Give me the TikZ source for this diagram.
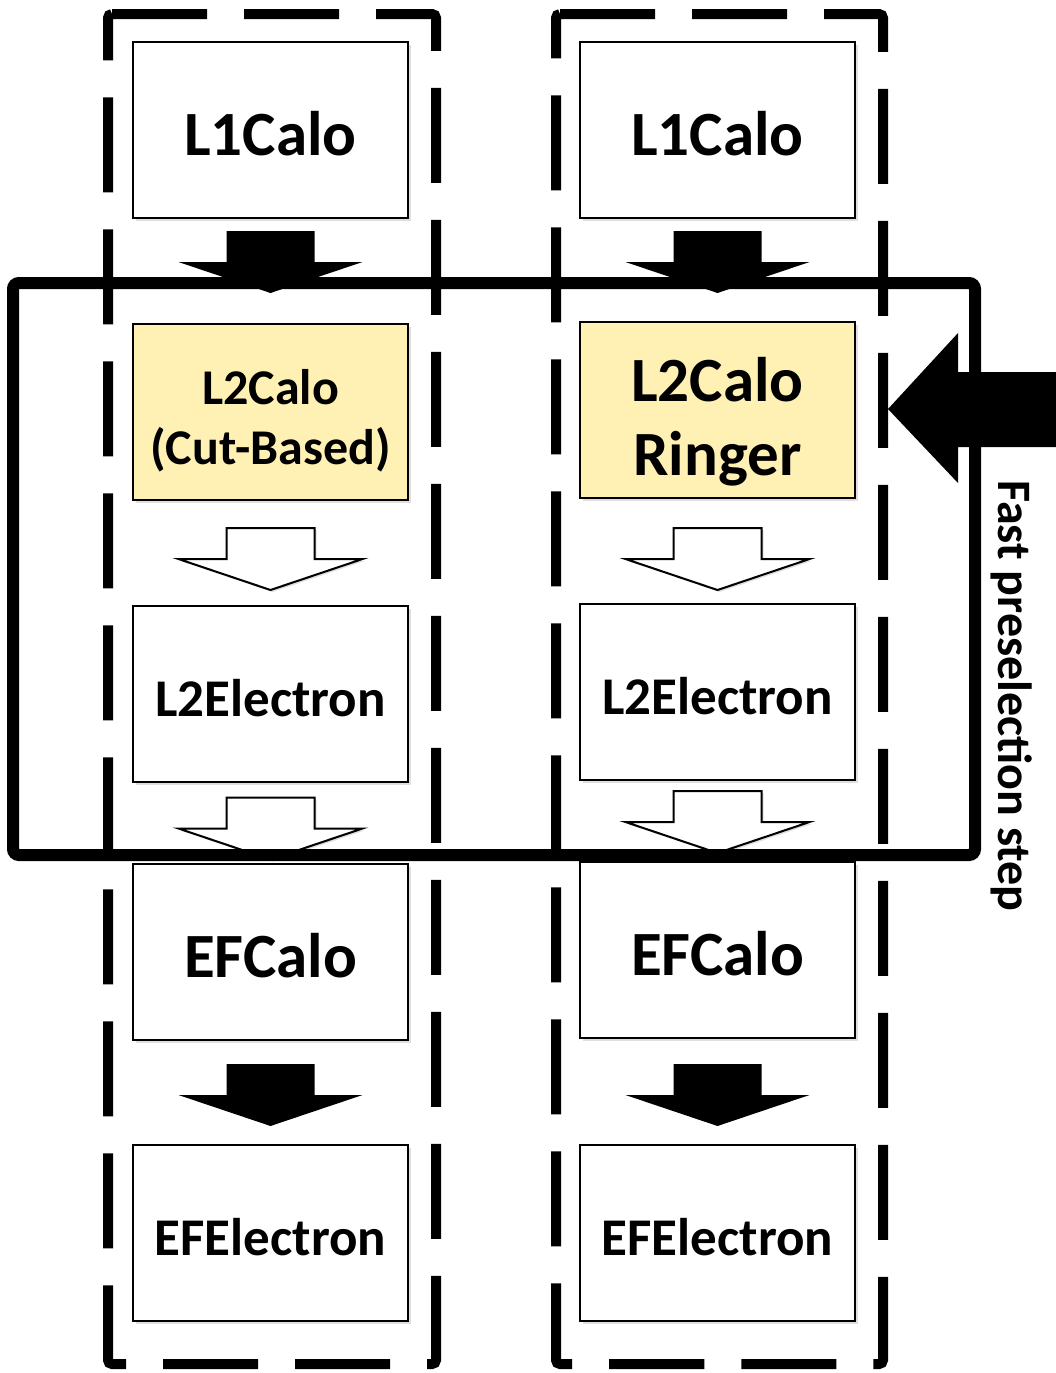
\documentclass[tikz,border=0pt]{standalone}
\usepackage{fontspec}
\setmainfont{Carlito}
\usetikzlibrary{shadows}
\definecolor{calofill}{RGB}{255,240,180}
\tikzset{
  stage/.style={draw=black, line width=1pt, fill=white, align=center,
    minimum width=137.5pt, minimum height=88pt, inner sep=0pt,
    drop shadow={shadow xshift=1.5pt, shadow yshift=-1.5pt, opacity=0.25}},
  bigtxt/.style={font=\fontsize{31.5}{37}\selectfont\bfseries,
    text height=25pt, text depth=0pt},
  smalltxt/.style={font=\fontsize{26.5}{30}\selectfont\bfseries,
    text height=22.5pt, text depth=0pt},
  cuttxt/.style={font=\fontsize{25}{30}\selectfont\bfseries,
    text height=52pt, text depth=0pt},
  ringtxt/.style={font=\fontsize{31.5}{37}\selectfont\bfseries,
    text height=65pt, text depth=0pt},
  sidetxt/.style={font=\fontsize{24}{28}\selectfont\bfseries},
  colframe/.style={line width=5pt, dash pattern=on 47.5pt off 18.5pt, rounded corners=2pt},
  fastframe/.style={line width=6pt, rounded corners=3pt},
  solidhead/.style={fill=black},
  openhead/.style={draw=black, fill=white, line width=1pt,
    drop shadow={shadow xshift=1pt, shadow yshift=-1pt, opacity=0.25}},
  pics/blockarrow/.style={code={
    \path[#1] (-44,0) -- (44,0) -- (44,31) -- (92,31) -- (0,62)
      -- (-92,31) -- (-44,31) -- cycle;}}
}
\begin{document}
\begin{tikzpicture}[x=0.5pt, y=-0.5pt]
  \useasboundingbox (0,0) rectangle (1056,1373);
  % dashed columns
  \draw[colframe] (108,14) -- (436,14) -- (436,1364) -- (108,1364) -- cycle;
  \draw[colframe] (556,14) -- (883,14) -- (883,1364) -- (556,1364) -- cycle;
  % cut-based chain
  \node[stage, bigtxt] (cutL1) at (270.5,130) {L1Calo};
  \node[stage, cuttxt, fill=calofill] (cutL2) at (270.5,412) {L2Calo\\(Cut-Based)};
  \node[stage, smalltxt] (cutEl) at (270.5,693.5) {L2Electron};
  \node[stage, bigtxt] (cutEF) at (270.5,952) {EFCalo};
  \node[stage, smalltxt] (cutEFEl) at (270.5,1233) {EFElectron};
  % ringer chain
  \node[stage, bigtxt] (ringL1) at (717.5,130) {L1Calo};
  \node[stage, ringtxt, fill=calofill] (ringL2) at (717.5,410) {L2Calo\\Ringer};
  \node[stage, smalltxt] (ringEl) at (717.5,692) {L2Electron};
  \node[stage, bigtxt] (ringEF) at (717.5,950) {EFCalo};
  \node[stage, smalltxt] (ringEFEl) at (717.5,1233) {EFElectron};
  % arrows between stages
  \path (cutL1.south) ++(0,12) pic {blockarrow=solidhead};
  \path (cutL2.south) ++(0,27) pic {blockarrow=openhead};
  \path (cutEl.south) ++(0,15) pic {blockarrow=openhead};
  \path (cutEF.south) ++(0,23) pic {blockarrow=solidhead};
  \path (ringL1.south) ++(0,12) pic {blockarrow=solidhead};
  \path (ringL2.south) ++(0,29) pic {blockarrow=openhead};
  \path (ringEl.south) ++(0,10) pic {blockarrow=openhead};
  \path (ringEF.south) ++(0,25) pic {blockarrow=solidhead};
  % fast preselection
  \draw[fastframe] (13,283) rectangle (975,855);
  \coordinate (ringin) at (888,409);
  \fill (ringin) -- (958,333) -- (958,372) -- (1056,372) -- (1056,447)
    -- (958,447) -- (958,483) -- cycle;
  \node[sidetxt, rotate=-90] (fastlbl) at (1012,696) {Fast preselection step};
\end{tikzpicture}
\end{document}
